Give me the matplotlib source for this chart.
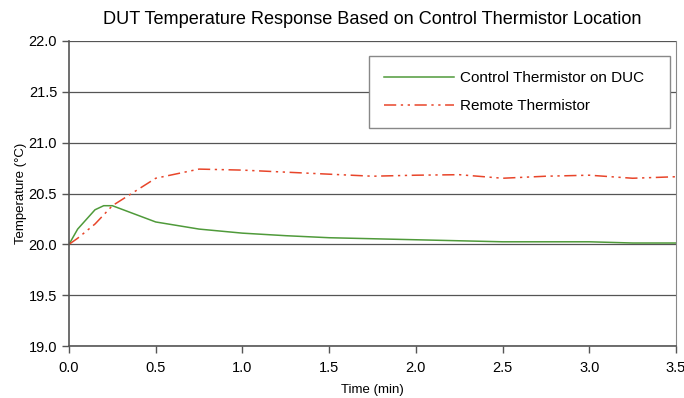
import matplotlib
matplotlib.use("Agg")
import matplotlib.pyplot as plt

plt.rcParams['font.family'] = ['Liberation Sans', 'DejaVu Sans']

time_control = [0.0, 0.05, 0.15, 0.2, 0.25, 0.5, 0.75, 1.0, 1.25, 1.5, 1.75, 2.0, 2.25, 2.5, 2.75, 3.0, 3.25, 3.5]
temp_control = [20.0, 20.15, 20.34, 20.38, 20.38, 20.22, 20.15, 20.11, 20.085, 20.065, 20.055, 20.045, 20.035, 20.025, 20.025, 20.025, 20.013, 20.013]

time_remote = [0.0, 0.05, 0.1, 0.15, 0.25, 0.5, 0.75, 1.0, 1.25, 1.5, 1.75, 2.0, 2.25, 2.5, 2.75, 3.0, 3.25, 3.5]
temp_remote = [20.0, 20.06, 20.13, 20.2, 20.38, 20.65, 20.74, 20.73, 20.71, 20.69, 20.67, 20.68, 20.685, 20.65, 20.67, 20.68, 20.65, 20.665]

fig = plt.figure(figsize=(6.84, 3.98), dpi=100)
ax = fig.add_axes([69 / 684, 52 / 398, 607 / 684, 305 / 398])

ax.plot(time_control, temp_control, color='#4f9a3a', lw=1.1, label='Control Thermistor on DUC')
ax.plot(time_remote, temp_remote, color='#e8452a', lw=1.1, dashes=(8, 3, 1.5, 3, 1.5, 3),
        label='Remote Thermistor')

ax.set_xlim(0, 3.5)
ax.set_ylim(19.0, 22.0)
ax.set_xticks([0.0, 0.5, 1.0, 1.5, 2.0, 2.5, 3.0, 3.5])
ax.set_yticks([19.0, 19.5, 20.0, 20.5, 21.0, 21.5, 22.0])
ax.xaxis.set_major_formatter(matplotlib.ticker.FormatStrFormatter('%.1f'))
ax.yaxis.set_major_formatter(matplotlib.ticker.FormatStrFormatter('%.1f'))
ax.grid(axis='y', color='#555555', lw=0.9)
ax.set_axisbelow(True)
for s in ['left', 'bottom']:
    ax.spines[s].set_color('#555555')
    ax.spines[s].set_linewidth(1.2)
ax.spines['right'].set_color('#888888')
ax.spines['top'].set_visible(False)
ax.tick_params(direction='out', length=5, width=1, color='#555555', labelsize=10.5)
ax.tick_params(axis='x', pad=6)

ax.set_xlabel('Time (min)', fontsize=9.5, labelpad=6)
ax.set_ylabel('Temperature (°C)', fontsize=9.5, labelpad=1)
ax.set_title('DUT Temperature Response Based on Control Thermistor Location', fontsize=13.1, pad=12)

# legend box spans a fixed width like the original, text left aligned
leg = ax.legend(loc='upper left', bbox_to_anchor=(0.494, 0, 0.496, 0.951), mode='expand',
                borderaxespad=0, fancybox=False, edgecolor='#888888', framealpha=1, fontsize=11,
                handlelength=4.6, handletextpad=0.35, borderpad=1.0, labelspacing=0.9)
leg.get_frame().set_linewidth(1.0)

fig.savefig('out.png', dpi=100)
